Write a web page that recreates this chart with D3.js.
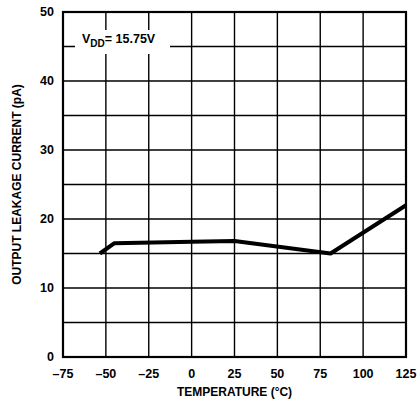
<!DOCTYPE html>
<html>
<head>
<meta charset="utf-8">
<script src="https://cdn.jsdelivr.net/npm/d3@7"></script>
<style>
  body { margin: 0; background: #fff; }
  text { font-family: "Liberation Sans", Arial, sans-serif; font-weight: bold; fill: #000; }
</style>
</head>
<body>
<script>
// data
var temps = [-53.5, -45, 0, 25, 81, 125];
var leakage = [15.0, 16.5, 16.7, 16.8, 15.0, 22.0];
var xTicks = [-75, -50, -25, 0, 25, 50, 75, 100, 125];
var yTicks = [0, 10, 20, 30, 40, 50];
var yGrid = [5, 10, 15, 20, 25, 30, 35, 40, 45];

var width = 420, height = 404;
var margin = {top: 12, right: 14, bottom: 47, left: 63};

var svg = d3.select('body').append('svg')
  .attr('width', width)
  .attr('height', height);

var x = d3.scaleLinear().domain([-75, 125]).range([margin.left, width - margin.right]);
var y = d3.scaleLinear().domain([0, 50]).range([height - margin.bottom, margin.top]);

// grid
svg.append('g').selectAll('line').data(xTicks.slice(1, -1)).enter().append('line')
  .attr('x1', function(d) { return x(d); }).attr('x2', function(d) { return x(d); })
  .attr('y1', y(0)).attr('y2', y(50))
  .attr('stroke', '#000').attr('stroke-width', 1.4);

svg.append('g').selectAll('line').data(yGrid).enter().append('line')
  .attr('x1', x(-75)).attr('x2', x(125))
  .attr('y1', function(d) { return y(d); }).attr('y2', function(d) { return y(d); })
  .attr('stroke', '#000').attr('stroke-width', 1.4);

// frame
svg.append('rect')
  .attr('x', x(-75)).attr('y', y(50))
  .attr('width', x(125) - x(-75)).attr('height', y(0) - y(50))
  .attr('fill', 'none').attr('stroke', '#000').attr('stroke-width', 2.2);

// label box
svg.append('rect')
  .attr('x', 75).attr('y', 30).attr('width', 95).attr('height', 24)
  .attr('fill', '#fff');
var lbl = svg.append('text').attr('x', 82).attr('y', 43).attr('font-size', 12.5);
lbl.append('tspan').text('V');
lbl.append('tspan').attr('dy', 4).attr('font-size', 10).text('DD');
lbl.append('tspan').attr('dy', -4).text('= 15.75V');

// tick labels
svg.append('g').selectAll('text').data(xTicks).enter().append('text')
  .attr('x', function(d) { return x(d); })
  .attr('y', y(0) + 21)
  .attr('text-anchor', 'middle')
  .attr('font-size', 12.5)
  .text(function(d) { return d < 0 ? '\u2013' + Math.abs(d) : d; });

svg.append('g').selectAll('text').data(yTicks).enter().append('text')
  .attr('x', x(-75) - 9)
  .attr('y', function(d) { return y(d) + 4; })
  .attr('text-anchor', 'end')
  .attr('font-size', 12.5)
  .text(function(d) { return d; });

// curve
var line = d3.line()
  .x(function(d, i) { return x(temps[i]); })
  .y(function(d) { return y(d); });

svg.append('path')
  .datum(leakage)
  .attr('d', line)
  .attr('fill', 'none')
  .attr('stroke', '#000')
  .attr('stroke-width', 4)
  .attr('stroke-linejoin', 'round');

// axis titles
svg.append('text')
  .attr('x', (x(-75) + x(125)) / 2)
  .attr('y', height - 8)
  .attr('text-anchor', 'middle')
  .attr('font-size', 12)
  .text('TEMPERATURE (\u00b0C)');

svg.append('text')
  .attr('transform', 'translate(21,' + (y(0) + y(50)) / 2 + ') rotate(-90)')
  .attr('text-anchor', 'middle')
  .attr('font-size', 12)
  .text('OUTPUT LEAKAGE CURRENT (pA)');
</script>
</body>
</html>
